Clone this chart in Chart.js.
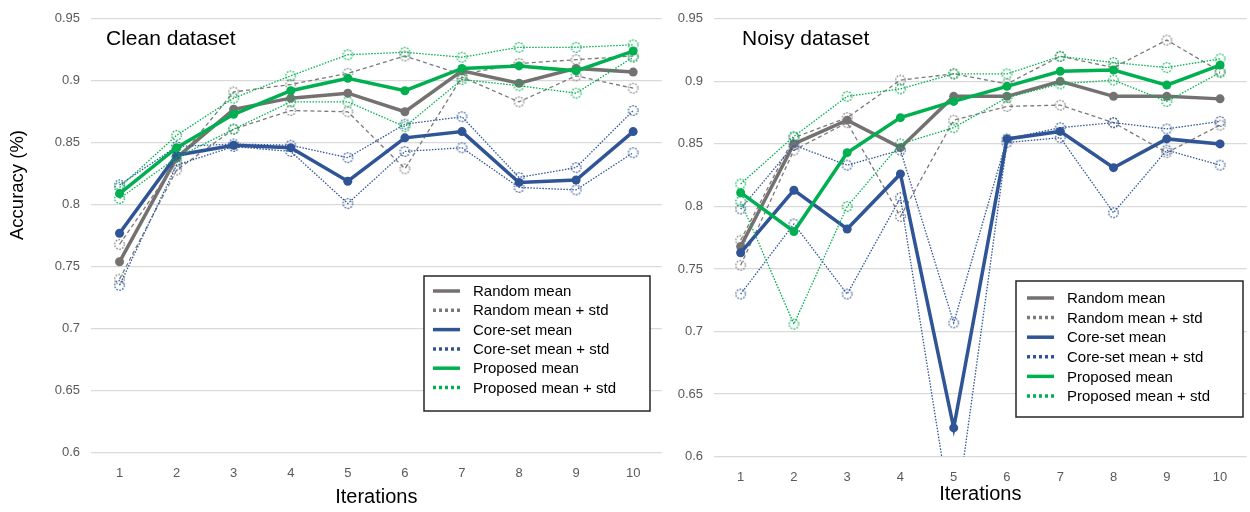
<!DOCTYPE html>
<html>
<head>
<meta charset="utf-8">
<script src="https://cdn.jsdelivr.net/npm/chart.js@4.4.1/dist/chart.umd.min.js"></script>
<style>
  html, body { margin: 0; padding: 0; background: #fff; overflow: hidden; }
  #wrap { position: relative; width: 1250px; height: 512px; overflow: hidden; }
  #clean { position: absolute; left: 0; top: 0; }
  #noisy { position: absolute; left: 668px; top: 0; }
</style>
</head>
<body>
<div id="wrap">
  <canvas id="clean" width="668" height="512"></canvas>
  <canvas id="noisy" width="585" height="512"></canvas>
</div>
<script>
const iterations = ['1', '2', '3', '4', '5', '6', '7', '8', '9', '10'];
const yTickValues = [0.6, 0.65, 0.7, 0.75, 0.8, 0.85, 0.9, 0.95];

// clean dataset
const cleanRandomMean  = [0.754, 0.838, 0.877, 0.886, 0.890, 0.875, 0.908, 0.898, 0.910, 0.907];
const cleanRandomUpper = [0.768, 0.835, 0.891, 0.897, 0.906, 0.920, 0.905, 0.914, 0.917, 0.920];
const cleanRandomLower = [0.740, 0.828, 0.861, 0.876, 0.875, 0.829, 0.903, 0.883, 0.904, 0.894];
const cleanCoreMean    = [0.777, 0.840, 0.848, 0.846, 0.819, 0.854, 0.859, 0.818, 0.820, 0.859];
const cleanCoreUpper   = [0.816, 0.847, 0.849, 0.848, 0.838, 0.865, 0.871, 0.822, 0.830, 0.876];
const cleanCoreLower   = [0.735, 0.832, 0.847, 0.843, 0.801, 0.843, 0.846, 0.814, 0.812, 0.842];
const cleanPropMean    = [0.809, 0.846, 0.873, 0.892, 0.902, 0.892, 0.910, 0.912, 0.908, 0.924];
const cleanPropUpper   = [0.814, 0.856, 0.886, 0.904, 0.921, 0.923, 0.919, 0.927, 0.927, 0.929];
const cleanPropLower   = [0.805, 0.838, 0.861, 0.883, 0.883, 0.863, 0.901, 0.896, 0.890, 0.919];

// noisy dataset
const noisyRandomMean  = [0.768, 0.850, 0.869, 0.847, 0.888, 0.888, 0.900, 0.888, 0.888, 0.886];
const noisyRandomUpper = [0.773, 0.855, 0.871, 0.901, 0.906, 0.898, 0.920, 0.911, 0.933, 0.908];
const noisyRandomLower = [0.753, 0.845, 0.867, 0.792, 0.869, 0.880, 0.881, 0.867, 0.843, 0.865];
const noisyCoreMean    = [0.763, 0.813, 0.782, 0.826, 0.623, 0.854, 0.860, 0.831, 0.854, 0.850];
const noisyCoreUpper   = [0.798, 0.849, 0.833, 0.845, 0.707, 0.854, 0.863, 0.867, 0.862, 0.868];
const noisyCoreLower   = [0.730, 0.786, 0.730, 0.807, 0.540, 0.851, 0.855, 0.795, 0.845, 0.833];
const noisyPropMean    = [0.811, 0.780, 0.843, 0.871, 0.884, 0.896, 0.908, 0.909, 0.897, 0.913];
const noisyPropUpper   = [0.818, 0.856, 0.888, 0.894, 0.906, 0.906, 0.920, 0.915, 0.911, 0.918];
const noisyPropLower   = [0.804, 0.706, 0.800, 0.850, 0.863, 0.887, 0.898, 0.901, 0.884, 0.907];

const GRAY = '#767171';
const GRAY_STD = '#7a7a7a';
const BLUE = '#2f5597';
const GREEN = '#00b050';
const FONT = "'Liberation Sans', Arial, sans-serif";

// hollow dotted circle used as marker for the std lines
function dottedRing(color) {
    const c = document.createElement('canvas');
    c.width = 13;
    c.height = 13;
    const g = c.getContext('2d');
    g.strokeStyle = color;
    g.lineWidth = 1.2;
    g.setLineDash([1.6, 1.4]);
    g.beginPath();
    g.arc(6.5, 6.5, 4.8, 0, Math.PI * 2);
    g.stroke();
    return c;
}

function meanSet(label, data, color) {
    return {
        label, data,
        borderColor: color, backgroundColor: color,
        borderWidth: 3.5,
        pointRadius: 4.5, pointHoverRadius: 4.5,
        pointBackgroundColor: color, pointBorderWidth: 0,
        legendLabel: label, legendDash: []
    };
}

function stdSet(label, data, color, dash, inLegend) {
    return {
        label, data,
        borderColor: color, backgroundColor: color,
        borderWidth: 1.3, borderDash: dash,
        pointStyle: dottedRing(color), pointRadius: 5, pointHoverRadius: 5,
        legendLabel: inLegend ? label : null, legendDash: [3, 3]
    };
}

function buildDatasets(rm, ru, rl, cm, cu, cl, pm, pu, pl) {
    const sets = [
        meanSet('Random mean', rm, GRAY),
        stdSet('Random mean + std', ru, GRAY_STD, [4, 3], true),
        stdSet('Random mean - std', rl, GRAY_STD, [4, 3], false),
        meanSet('Core-set mean', cm, BLUE),
        stdSet('Core-set mean + std', cu, BLUE, [1.5, 1.5], true),
        stdSet('Core-set mean - std', cl, BLUE, [1.5, 1.5], false),
        meanSet('Proposed mean', pm, GREEN),
        stdSet('Proposed mean + std', pu, GREEN, [1.5, 1.5], true),
        stdSet('Proposed mean - std', pl, GREEN, [1.5, 1.5], false)
    ];
    // later series sit on top, like the spreadsheet original
    sets.forEach((s, i) => { s.order = sets.length - i; });
    return sets;
}

const panelDecor = {
    id: 'panelDecor',
    afterDraw(chart, args, opts) {
        const ctx = chart.ctx;
        ctx.save();
        ctx.fillStyle = '#000';
        ctx.textAlign = 'left';
        ctx.textBaseline = 'alphabetic';
        ctx.font = '21px ' + FONT;
        ctx.fillText(opts.title, opts.titleX, opts.titleY);

        if (opts.yTitle) {
            ctx.save();
            ctx.translate(opts.yTitle.x, opts.yTitle.y);
            ctx.rotate(-Math.PI / 2);
            ctx.textAlign = 'center';
            ctx.textBaseline = 'middle';
            ctx.font = '18.5px ' + FONT;
            ctx.fillText(opts.yTitle.text, 0, 0);
            ctx.restore();
        }

        const lg = opts.legend;
        ctx.fillStyle = '#fff';
        ctx.fillRect(lg.left, lg.top, lg.width, lg.height);
        ctx.strokeStyle = '#262626';
        ctx.lineWidth = 1.5;
        ctx.strokeRect(lg.left, lg.top, lg.width, lg.height);

        let row = 0;
        chart.data.datasets.forEach(ds => {
            if (!ds.legendLabel) return;
            const y = lg.top + lg.firstRow + row * lg.rowGap;
            ctx.beginPath();
            ctx.setLineDash(ds.legendDash);
            ctx.lineWidth = 3.5;
            ctx.strokeStyle = ds.borderColor;
            ctx.moveTo(lg.left + lg.sampleX, y);
            ctx.lineTo(lg.left + lg.sampleX + 27, y);
            ctx.stroke();
            ctx.setLineDash([]);
            ctx.fillStyle = '#000';
            ctx.font = '15px ' + FONT;
            ctx.textBaseline = 'middle';
            ctx.fillText(ds.legendLabel, lg.left + lg.textX, y + 1);
            row++;
        });
        ctx.restore();
    }
};

function buildOptions(cfg) {
    return {
        responsive: false,
        animation: false,
        events: [],
        layout: { padding: { left: 0, right: cfg.padRight, top: 16, bottom: 0 } },
        elements: { line: { tension: 0 } },
        plugins: {
            legend: { display: false },
            tooltip: { enabled: false },
            panelDecor: cfg.decor
        },
        scales: {
            x: {
                offset: true,
                grid: { display: false, drawTicks: false },
                border: { display: false },
                ticks: { color: '#595959', font: { family: FONT, size: 13 }, padding: 13, maxRotation: 0 },
                title: {
                    display: true, text: 'Iterations', color: '#000',
                    font: { family: FONT, size: 20 },
                    padding: { top: 0, bottom: cfg.xTitlePad }
                },
                afterFit: s => { s.height = cfg.xHeight; }
            },
            y: {
                min: 0.6,
                max: 0.95,
                grid: { color: '#d9d9d9', lineWidth: 1.3, drawTicks: false },
                border: { display: false },
                afterBuildTicks: s => { s.ticks = yTickValues.map(v => ({ value: v })); },
                ticks: {
                    color: '#595959', font: { family: FONT, size: 13 }, padding: 11,
                    callback: v => String(+v.toFixed(2))
                },
                afterFit: s => { s.width = cfg.yWidth; }
            }
        }
    };
}

new Chart(document.getElementById('clean'), {
    type: 'line',
    data: {
        labels: iterations,
        datasets: buildDatasets(cleanRandomMean, cleanRandomUpper, cleanRandomLower,
            cleanCoreMean, cleanCoreUpper, cleanCoreLower,
            cleanPropMean, cleanPropUpper, cleanPropLower)
    },
    options: buildOptions({
        padRight: 3, yWidth: 91, xHeight: 59.3, xTitlePad: 3,
        decor: {
            title: 'Clean dataset', titleX: 106, titleY: 45,
            yTitle: { text: 'Accuracy (%)', x: 18, y: 185 },
            legend: { left: 424, top: 276, width: 226, height: 135, sampleX: 9, textX: 49, firstRow: 15, rowGap: 19.3 }
        }
    }),
    plugins: [panelDecor]
});

new Chart(document.getElementById('noisy'), {
    type: 'line',
    data: {
        labels: iterations,
        datasets: buildDatasets(noisyRandomMean, noisyRandomUpper, noisyRandomLower,
            noisyCoreMean, noisyCoreUpper, noisyCoreLower,
            noisyPropMean, noisyPropUpper, noisyPropLower)
    },
    options: buildOptions({
        padRight: 0, yWidth: 46, xHeight: 55.3, xTitlePad: 6,
        decor: {
            title: 'Noisy dataset', titleX: 74, titleY: 45,
            yTitle: null,
            legend: { left: 348, top: 281, width: 227, height: 136, sampleX: 11, textX: 51, firstRow: 17, rowGap: 19.6 }
        }
    }),
    plugins: [panelDecor]
});
</script>
</body>
</html>
